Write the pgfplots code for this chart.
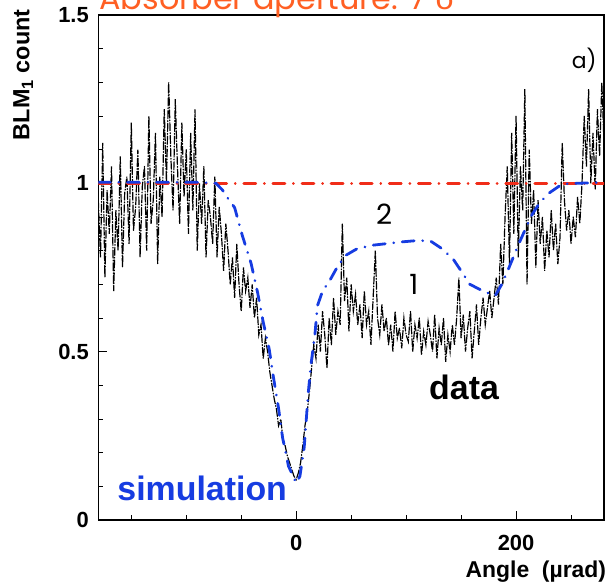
\documentclass[border=0pt]{standalone}
\usepackage{fontspec}
\setmainfont{Liberation Sans}
\newfontfamily\thin{Poppins}
\usepackage{pgfplots}
\pgfplotsset{compat=1.18}
\definecolor{simblue}{RGB}{22,60,225}
\definecolor{myred}{RGB}{240,45,25}
\definecolor{titleorange}{RGB}{255,95,35}
\begin{document}
\begin{tikzpicture}
\begin{axis}[
  at={(0,0)}, anchor=south west,
  scale only axis, width=505.7bp, height=505bp,
  xmin=-180, xmax=280, ymin=0, ymax=1.5,
  axis line style={line width=1.2pt},
  tick align=inside, xtick pos=bottom, ytick pos=left,
  xtick={0,200}, xticklabels={0,200},
  minor xtick={-150,-100,-50,50,100,150,250},
  ytick={0,0.5,1,1.5}, yticklabels={0,0.5,1,1.5},
  minor ytick={0.1,0.2,0.3,0.4,0.6,0.7,0.8,0.9,1.1,1.2,1.3,1.4},
  major tick length=9bp, minor tick length=5bp,
  tick style={black, line width=0.6pt},
  /pgf/number format/assume math mode=true,
  ticklabel style={font=\bfseries\fontsize{22}{22}\selectfont},
  xticklabel style={yshift=-12bp},
  yticklabel style={xshift=-6bp},
]
% data (black)
\addplot[black, line width=1.2pt, line cap=round, dash pattern=on 8bp off 2bp on 0.8bp off 2bp] coordinates {
(-180,0.95)(-178,0.78)(-176,1.12)(-174,0.72)(-172,0.98)(-170,0.85)(-168,1.05)(-166,0.68)(-164,0.92)(-162,0.80)(-160,1.08)
(-158,0.75)(-156,0.97)(-154,1.02)(-152,0.82)(-150,1.18)(-148,0.86)(-146,0.93)(-144,1.10)(-142,0.78)(-140,0.99)
(-138,1.05)(-136,0.80)(-134,1.20)(-132,0.88)(-130,0.95)(-128,1.15)(-126,0.76)(-124,1.02)(-122,0.90)(-120,1.22)
(-118,1.00)(-116,1.30)(-114,1.08)(-112,0.92)(-110,1.25)(-108,1.05)(-106,0.88)(-104,1.18)(-102,0.96)(-100,1.10)
(-98,0.85)(-96,1.15)(-94,0.92)(-92,1.22)(-90,0.80)(-88,1.00)(-86,0.88)(-84,1.05)(-82,0.78)(-80,0.95)
(-78,0.90)(-76,0.82)(-74,1.02)(-72,0.78)(-70,0.93)(-68,0.85)(-66,0.74)(-64,0.88)(-62,0.80)(-60,0.70)
(-58,0.78)(-56,0.66)(-54,0.82)(-52,0.70)(-50,0.62)(-48,0.75)(-46,0.68)(-44,0.72)(-42,0.63)(-40,0.70)
(-38,0.60)(-36,0.66)(-34,0.55)(-32,0.58)(-30,0.48)(-28,0.54)(-26,0.50)(-24,0.44)(-22,0.40)(-20,0.36)
(-18,0.33)(-16,0.28)(-14,0.30)(-12,0.24)(-10,0.22)(-8,0.19)(-6,0.17)(-4,0.15)(-2,0.13)(0,0.12)
(2,0.14)(4,0.17)(6,0.22)(8,0.28)(10,0.32)(12,0.38)(14,0.45)(16,0.52)(18,0.48)(20,0.58)
(22,0.50)(24,0.62)(26,0.55)(28,0.45)(30,0.60)(32,0.52)(34,0.66)(36,0.55)(38,0.62)(40,0.58)
(42,0.88)(44,0.65)(46,0.72)(48,0.56)(50,0.70)(52,0.62)(54,0.67)(56,0.58)(58,0.64)(60,0.54)
(62,0.68)(64,0.58)(66,0.62)(68,0.52)(70,0.66)(72,0.80)(74,0.60)(76,0.55)(78,0.64)(80,0.56)
(82,0.60)(84,0.52)(86,0.58)(88,0.50)(90,0.62)(92,0.54)(94,0.57)(96,0.51)(98,0.60)(100,0.55)
(102,0.53)(104,0.62)(106,0.50)(108,0.58)(110,0.54)(112,0.60)(114,0.49)(116,0.56)(118,0.52)(120,0.59)
(122,0.55)(124,0.50)(126,0.61)(128,0.48)(130,0.57)(132,0.52)(134,0.60)(136,0.47)(138,0.55)(140,0.50)
(142,0.58)(144,0.52)(146,0.60)(148,0.72)(150,0.54)(152,0.61)(154,0.50)(156,0.57)(158,0.62)(160,0.48)
(162,0.56)(164,0.64)(166,0.52)(168,0.60)(170,0.66)(172,0.58)(174,0.63)(176,0.68)(178,0.60)(180,0.66)
(182,0.72)(184,0.64)(186,0.82)(188,0.70)(190,0.90)(192,1.05)(194,0.76)(196,1.15)(198,0.85)(200,1.20)
(202,0.78)(204,1.05)(206,0.92)(208,1.28)(210,0.70)(212,1.10)(214,0.88)(216,0.98)(218,0.75)(220,0.95)
(222,0.82)(224,0.90)(226,0.74)(228,0.86)(230,0.78)(232,0.92)(234,0.80)(236,0.88)(238,0.76)(240,0.84)
(242,1.12)(244,0.95)(246,0.86)(248,0.92)(250,0.82)(252,0.90)(254,0.84)(256,0.96)(258,0.88)(260,1.00)
(262,1.20)(264,1.05)(266,1.28)(268,1.00)(270,1.15)(272,0.98)(274,1.22)(276,1.08)(278,1.30)(280,1.12)
};
% reference line
\addplot[draw=myred, line width=2.8pt, line cap=round, dash pattern=on 12bp off 8.5bp on 0.1bp off 8.5bp] coordinates {(-180,1)(280,1)};
% simulation
\addplot[draw=simblue, line width=2.8pt, line cap=round, dash pattern=on 12bp off 8.5bp on 0.1bp off 8.5bp] coordinates {
(-180,1.003)(-150,1.003)(-120,1.003)(-90,1.003)(-73,1.0)(-67,0.98)(-62,0.955)(-56,0.928)(-49,0.845)(-41,0.762)(-35,0.674)(-30,0.588)(-24.5,0.507)(-21,0.43)(-16,0.331)(-12.4,0.245)(-7,0.16)(0,0.11)(3.4,0.13)(7.3,0.216)(11,0.378)(13.5,0.463)(17,0.55)(19.4,0.637)(24,0.68)(31,0.714)(38,0.755)(45,0.786)(55,0.805)(69,0.816)(80,0.82)(96,0.826)(110,0.83)(122,0.829)(133,0.805)(143,0.774)(150,0.74)(158,0.70)(170,0.68)(181,0.666)(187,0.70)(193,0.745)(203,0.824)(214,0.904)(222,0.945)(230,0.971)(242,0.998)(255,1.0)(280,1.003)
};
\node[font=\bfseries\fontsize{34}{34}\selectfont, text=simblue] at (axis cs:-85.5,0.095) {simulation};
\node[font=\bfseries\fontsize{34}{34}\selectfont] at (axis cs:152.7,0.395) {data};
\node[font=\thin\fontsize{28}{28}\selectfont] at (axis cs:80,0.908) {2};
\node[font=\thin\fontsize{28}{28}\selectfont] at (axis cs:107,0.70) {1};
\node[font=\thin\fontsize{22}{22}\selectfont] at (axis cs:262,1.365) {a)};
\end{axis}
\node[anchor=east, rotate=90, font=\bfseries\fontsize{23.5}{23.5}\selectfont] at (-75bp,514bp) {BLM\textsubscript{1} count};
\node[anchor=base east, font=\bfseries\fontsize{23}{23}\selectfont, inner sep=0pt] at (508bp,-57bp) {Angle\ \ (µrad)};
\node[anchor=base west, text=titleorange, font=\fontsize{32}{32}\selectfont, inner sep=0pt] at (1bp,510bp) {{\thin Absorber aperture: 7 }σ};
\pgfresetboundingbox
\useasboundingbox (-98.3bp,-68bp) rectangle (508.7bp,520bp);
\end{tikzpicture}
\end{document}
